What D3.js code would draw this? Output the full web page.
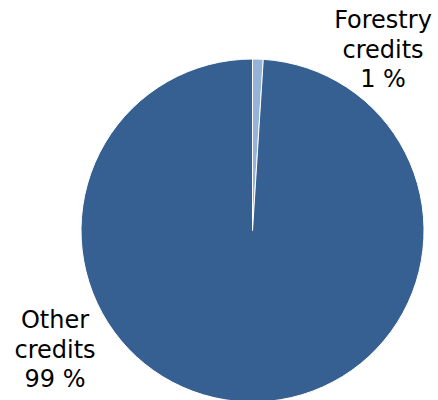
<!DOCTYPE html>
<html>
<head>
<meta charset="utf-8">
<script src="https://cdn.jsdelivr.net/npm/d3@7"></script>
<style>
  body { margin: 0; background: #fff; }
  text { font-family: "DejaVu Sans", Verdana, sans-serif; font-size: 24px; fill: #000; }
</style>
</head>
<body>
<div id="container"></div>
<script>
/* DATA */
const categories = ["Forestry credits", "Other credits"];
const shares = [1, 99];
const labelLines = [["Forestry", "credits", "1 %"], ["Other", "credits", "99 %"]];

/* CONSTANTS */
const width = 438,
  height = 400,
  cx = 252.5,
  cy = 230.5,
  radius = 171.5,
  lineHeight = 29.5;

const colorScale = d3.scaleOrdinal()
  .domain(categories)
  .range(["#95b3d7", "#376092"]);

const svg = d3.select("#container")
  .append("svg")
  .attr("width", width)
  .attr("height", height);

const pie = d3.pie()
  .value(d => d.value)
  .sort(null);

const arc = d3.arc()
  .innerRadius(0)
  .outerRadius(radius);

const data = categories.map((c, i) => ({ key: c, value: shares[i], lines: labelLines[i] }));
const arcs = pie(data);

const g = svg.append("g")
  .attr("transform", `translate(${cx}, ${cy})`);

g.selectAll("path")
  .data(arcs)
  .join("path")
  .attr("d", arc)
  .attr("fill", d => colorScale(d.data.key))
  .attr("stroke", "#fff")
  .attr("stroke-width", 1);

// label anchors (first baseline), placed outside the pie
const labelPos = [[383, 28], [55, 328]];

svg.selectAll("text.label")
  .data(arcs)
  .join("text")
  .attr("class", "label")
  .attr("text-anchor", "middle")
  .each(function(d, i) {
    const t = d3.select(this);
    d.data.lines.forEach((line, j) => {
      t.append("tspan")
        .attr("x", labelPos[i][0])
        .attr("y", labelPos[i][1] + j * lineHeight)
        .text(line);
    });
  });
</script>
</body>
</html>
